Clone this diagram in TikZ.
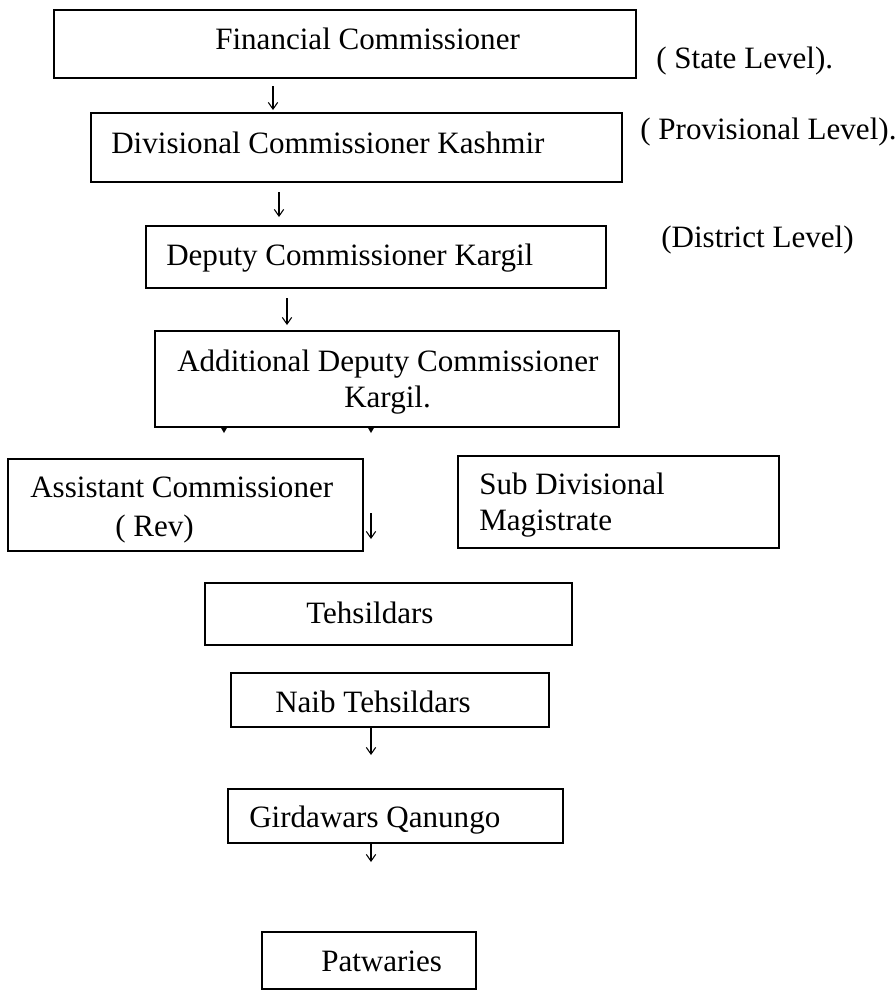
\documentclass[tikz,border=0pt]{standalone}
\usepackage{fontspec}
\setmainfont{Liberation Serif}
\usetikzlibrary{arrows.meta,fit}
\begin{document}
\begin{tikzpicture}[x=0.75pt,y=-0.75pt,
  font=\fontsize{23.3}{27.7}\selectfont,
  box/.style={draw=black,line width=1.3pt,inner sep=0pt,rectangle},
  txt/.style={anchor=base west,inner sep=0pt},
  arr/.style={line width=0.8pt,-{Straight Barb[length=5pt,width=7pt]}},
  tick/.style={fill=black}]
\useasboundingbox (0,0) rectangle (896,990);
% boxes
\node[box,fit={(54,10) (636,78)}] (fc) {};
\node[box,fit={(91,113) (622,182)}] (dc) {};
\node[box,fit={(146,226) (606,288)}] (dck) {};
\node[box,fit={(155,331) (619,427)}] (adc) {};
\node[box,fit={(8,459) (363,551)}] (ac) {};
\node[box,fit={(458,456) (779,548)}] (sdm) {};
\node[box,fit={(205,583) (572,645)}] (teh) {};
\node[box,fit={(231,673) (549,727)}] (naib) {};
\node[box,fit={(228,789) (563,843)}] (gq) {};
\node[box,fit={(262,932) (476,989)}] (pat) {};
% texts
\node[txt] (fct) at (215,49) {Financial Commissioner};
\node[txt] (sl) at (656,68) {( State Level).};
\node[txt] (dct) at (111,153) {Divisional Commissioner Kashmir};
\node[txt] (pl) at (640,139) {( Provisional Level).};
\node[txt] (dckt) at (166,265) {Deputy Commissioner Kargil};
\node[txt] (dl) at (661,247) {(District Level)};
\node[txt] (adct1) at (177,371) {Additional Deputy Commissioner};
\node[txt] (adct2) at (344,407) {Kargil.};
\node[txt] (act1) at (30,497) {Assistant Commissioner};
\node[txt] (act2) at (115,536) {( Rev)};
\node[txt] (sdmt1) at (479,494) {Sub Divisional};
\node[txt] (sdmt2) at (479,530) {Magistrate};
\node[txt] (teht) at (306,623) {Tehsildars};
\node[txt] (naibt) at (275,712) {Naib Tehsildars};
\node[txt] (gqt) at (249,827) {Girdawars Qanungo};
\node[txt] (patt) at (321,971) {Patwaries};
% arrow end points
\coordinate (a1s) at (273,86);  \coordinate (a1e) at (273,110);
\coordinate (a2s) at (279,192); \coordinate (a2e) at (279,217);
\coordinate (a3s) at (287,298); \coordinate (a3e) at (287,325);
\coordinate (a4s) at (371,513); \coordinate (a4e) at (371,539);
\coordinate (a5s) at (371,727); \coordinate (a5e) at (371,755);
\coordinate (a6s) at (371,843); \coordinate (a6e) at (371,862);
\draw[arr] (a1s) -- (a1e);
\draw[arr] (a2s) -- (a2e);
\draw[arr] (a3s) -- (a3e);
\draw[arr] (a4s) -- (a4e);
\draw[arr] (a5s) -- (a5e);
\draw[arr] (a6s) -- (a6e);
% small ticks under the ADC box
\fill[tick] (220.5,427) -- (227.5,427) -- (224,433) -- cycle;
\fill[tick] (367.5,427) -- (374.5,427) -- (371,433) -- cycle;
\end{tikzpicture}
\end{document}
